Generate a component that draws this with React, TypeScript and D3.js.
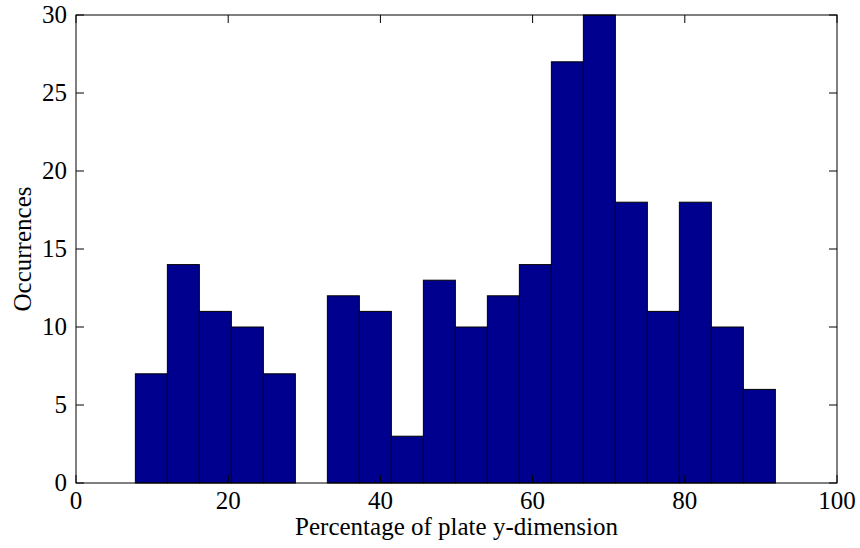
import React from "react";
import * as d3 from "d3";

// Histogram bins: 20 equal-width bins between the data extremes
const binStart = 7.8;
const binEnd = 91.9;
const counts = [7, 14, 11, 10, 7, 0, 12, 11, 3, 13, 10, 12, 14, 27, 30, 18, 11, 18, 10, 6];
const xTicks = [0, 20, 40, 60, 80, 100];
const yTicks = [0, 5, 10, 15, 20, 25, 30];
const xLabel = "Percentage of plate y-dimension";
const yLabel = "Occurrences";

const W = 860;
const H = 548;
const left = 76;
const right = 837;
const top = 15;
const bottom = 483;
const textStyle: React.CSSProperties = {
  fontFamily: "Liberation Serif, DejaVu Serif, serif",
  fontSize: "25px",
};

export default function App() {
  const x = d3.scaleLinear().domain([0, 100]).range([left, right]);
  const y = d3.scaleLinear().domain([0, 30]).range([bottom, top]);
  const binW = (binEnd - binStart) / counts.length;
  const tick = 8;

  return (
    <svg
      width={W}
      height={H}
      style={{ position: "absolute", left: 0, top: 0, background: "#fff" }}
    >
      {counts.map((c, i) => {
        if (c === 0) return null;
        const x0 = x(binStart + i * binW);
        const x1 = x(binStart + (i + 1) * binW);
        return (
          <rect
            key={i}
            x={x0}
            y={y(c)}
            width={x1 - x0}
            height={y(0) - y(c)}
            fill="#00008F"
            stroke="#000"
            strokeWidth={1}
          />
        );
      })}
      <rect
        x={left}
        y={top}
        width={right - left}
        height={bottom - top}
        fill="none"
        stroke="#000"
        strokeWidth={1}
      />
      {xTicks.map((t) => (
        <g key={"x" + t}>
          <line x1={x(t)} x2={x(t)} y1={bottom} y2={bottom - tick} stroke="#000" />
          <line x1={x(t)} x2={x(t)} y1={top} y2={top + tick} stroke="#000" />
          <text x={x(t)} y={bottom + 26} textAnchor="middle" fill="#000" style={textStyle}>
            {t}
          </text>
        </g>
      ))}
      {yTicks.map((t) => (
        <g key={"y" + t}>
          <line x1={left} x2={left + tick} y1={y(t)} y2={y(t)} stroke="#000" />
          <line x1={right} x2={right - tick} y1={y(t)} y2={y(t)} stroke="#000" />
          <text x={left - 9} y={y(t) + 8} textAnchor="end" fill="#000" style={textStyle}>
            {t}
          </text>
        </g>
      ))}
      <text x={(left + right) / 2} y={535} textAnchor="middle" fill="#000" style={textStyle}>
        {xLabel}
      </text>
      <text
        transform={`translate(31, ${(top + bottom) / 2}) rotate(-90)`}
        textAnchor="middle"
        fill="#000"
        style={textStyle}
      >
        {yLabel}
      </text>
    </svg>
  );
}
